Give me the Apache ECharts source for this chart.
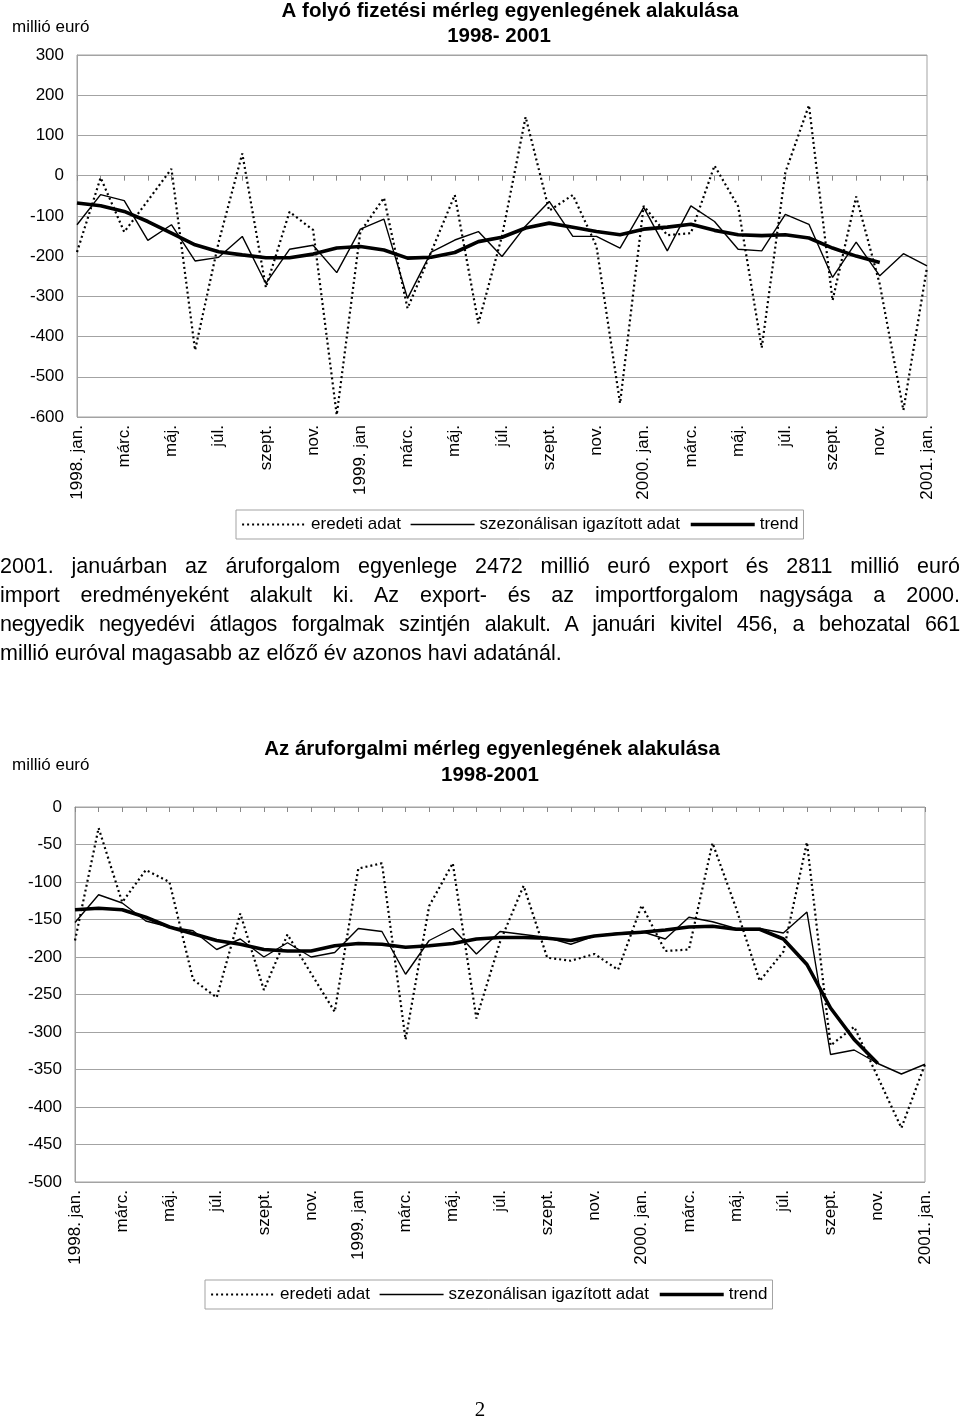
<!DOCTYPE html>
<html><head><meta charset="utf-8">
<script src="https://cdn.jsdelivr.net/npm/echarts@6/dist/echarts.min.js"></script>
<style>
html,body{margin:0;padding:0;background:#fff;}
#page{position:relative;width:960px;height:1420px;overflow:hidden;background:#fff;}
#chart{position:absolute;left:0;top:0;width:960px;height:1420px;}
#para{position:absolute;left:0;top:552px;width:960px;font-family:'Liberation Sans',Arial,sans-serif;font-size:21.5px;line-height:29px;color:#000;}
#para div{text-align:justify;text-align-last:justify;}
#para div.tight{letter-spacing:-0.25px;white-space:nowrap;}
#para div.last{text-align-last:left;}
#pnum{position:absolute;left:0;width:960px;top:1397px;text-align:center;font-family:'Liberation Serif','DejaVu Serif',serif;font-size:21px;color:#000;}
</style></head>
<body><div id="page">
<div id="chart"></div>
<div id="para">
<div>2001. januárban az áruforgalom egyenlege 2472 millió euró export és 2811 millió euró</div>
<div>import eredményeként alakult ki. Az export- és az importforgalom nagysága a 2000.</div>
<div class="tight">negyedik negyedévi átlagos forgalmak szintjén alakult. A januári kivitel 456, a behozatal 661</div>
<div class="last">millió euróval magasabb az előző év azonos havi adatánál.</div>
</div>
<div id="pnum">2</div>
</div>
<script>
// ---- data ----
const months = ['1998. jan.','febr.','márc.','ápr.','máj.','jún.','júl.','aug.','szept.','okt.','nov.','dec.',
  '1999. jan','febr.','márc.','ápr.','máj.','jún.','júl.','aug.','szept.','okt.','nov.','dec.',
  '2000. jan.','febr.','márc.','ápr.','máj.','jún.','júl.','aug.','szept.','okt.','nov.','dec.',
  '2001. jan.'];
const seriesNames = ['eredeti adat', 'szezonálisan igazított adat', 'trend'];

// Chart 1: current account balance (million EUR)
const currOriginal = [-190, -5, -140, -62, 17, -434, -165, 55, -278, -90, -135, -595,
  -140, -55, -330, -190, -48, -367, -150, 146, -87, -48, -175, -566,
  -75, -148, -143, 25, -76, -428, 8, 175, -310, -52, -270, -583, -228];
const currAdjusted = [-122, -47, -62, -161, -122, -212, -203, -151, -268, -183, -173, -241,
  -133, -108, -305, -190, -160, -139, -201, -125, -64, -151, -151, -180,
  -79, -187, -75, -114, -183, -187, -96, -121, -253, -165, -249, -194, -224];
const currTrend = [-68, -75, -89, -114, -143, -172, -189, -197, -204, -204, -195, -180,
  -176, -185, -205, -203, -191, -164, -153, -130, -118, -128, -139, -147,
  -133, -128, -121, -136, -147, -149, -147, -155, -180, -200, -216, null, null];

// Chart 2: trade balance (million EUR)
const tradeOriginal = [-178, -28, -127, -84, -100, -230, -254, -142, -244, -170, -222, -273,
  -82, -75, -310, -132, -75, -282, -180, -105, -201, -205, -196, -217,
  -131, -192, -190, -48, -135, -232, -193, -47, -318, -293, -360, -428, -343];
const tradeAdjusted = [-154, -117, -128, -152, -160, -165, -190, -176, -200, -181, -200, -194,
  -162, -166, -223, -178, -162, -196, -166, -170, -174, -183, -172, -168,
  -166, -176, -147, -153, -162, -162, -168, -140, -330, -324, -342, -356, -343];
const tradeTrend = [-137, -135, -137, -147, -160, -169, -178, -183, -190, -192, -192, -185,
  -182, -183, -187, -185, -182, -176, -174, -174, -175, -178, -172, -169,
  -167, -164, -160, -159, -163, -163, -176, -210, -268, -310, -342, null, null];

const title1 = 'A folyó fizetési mérleg egyenlegének alakulása';
const subtitle1 = '1998- 2001';
const title2 = 'Az áruforgalmi mérleg egyenlegének alakulása';
const subtitle2 = '1998-2001';
const unitLabel = 'millió euró';

// ---- chart ----
const FONT = "'Liberation Sans', Arial, sans-serif";
const GRID_COLOR = '#a3a3a3';
const chart = echarts.init(document.getElementById('chart'), null, {renderer: 'canvas'});

function styles() {
  return [
    {type: [2, 3], width: 2.2, color: '#000'},
    {type: 'solid', width: 1.4, color: '#000'},
    {type: 'solid', width: 3.6, color: '#000'}
  ];
}
function makeSeries(vals, xi, yi) {
  const st = styles();
  return vals.map((v, k) => ({
    name: seriesNames[k], type: 'line', data: v, xAxisIndex: xi, yAxisIndex: yi,
    symbol: 'none', showSymbol: false, connectNulls: false, silent: true,
    lineStyle: st[k], itemStyle: {color: '#000'}, z: 2 + k, animation: false
  }));
}
function labelAxis(gi) {
  return {
    type: 'category', gridIndex: gi, data: months, boundaryGap: false, position: 'bottom',
    axisLine: {show: false, onZero: false}, axisTick: {show: false},
    axisLabel: {interval: 1, rotate: 90, margin: 8, fontSize: 17, fontFamily: FONT, color: '#000'},
    splitLine: {show: false}
  };
}
function zeroAxis(gi) {
  return {
    type: 'category', gridIndex: gi, data: months, boundaryGap: false, position: 'top',
    axisLine: {show: true, onZero: true, lineStyle: {color: GRID_COLOR, width: 1}},
    axisTick: {show: true, interval: 0, inside: true, length: 5, lineStyle: {color: '#888'}},
    axisLabel: {show: false}, splitLine: {show: false}
  };
}
function valueAxis(gi, min, max, interval) {
  return {
    type: 'value', gridIndex: gi, min: min, max: max, interval: interval,
    axisLine: {show: true, lineStyle: {color: GRID_COLOR}}, axisTick: {show: false},
    axisLabel: {margin: 13, fontSize: 17, fontFamily: FONT, color: '#000'},
    splitLine: {show: true, lineStyle: {color: GRID_COLOR, width: 1}}
  };
}
function legend(left, top) {
  const st = styles();
  return {
    data: seriesNames.map((n, k) => ({name: n, lineStyle: {width: st[k].width, type: st[k].type, color: '#000'}})),
    left: left, top: top, orient: 'horizontal',
    itemWidth: 64, itemHeight: 12, itemGap: 9, padding: [6, 5],
    borderColor: GRID_COLOR, borderWidth: 1, backgroundColor: '#fff',
    selectedMode: false, itemStyle: {opacity: 0},
    lineStyle: {width: 'inherit', type: 'inherit'},
    textStyle: {fontSize: 17, fontFamily: FONT, color: '#000'}
  };
}
const tStyle = {fontSize: 20.5, fontWeight: 'bold', fontFamily: FONT, color: '#000'};
const uStyle = {fontSize: 17, fontWeight: 'normal', fontFamily: FONT, color: '#000'};

const option = {
  animation: false,
  backgroundColor: '#fff',
  title: [
    {text: title1, left: 510, top: 1, textAlign: 'center', padding: 0, textStyle: tStyle},
    {text: subtitle1, left: 499, top: 26, textAlign: 'center', padding: 0, textStyle: tStyle},
    {text: unitLabel, left: 12, top: 19, padding: 0, textStyle: uStyle},
    {text: title2, left: 492, top: 739, textAlign: 'center', padding: 0, textStyle: tStyle},
    {text: subtitle2, left: 490, top: 765, textAlign: 'center', padding: 0, textStyle: tStyle},
    {text: unitLabel, left: 12, top: 757, padding: 0, textStyle: uStyle}
  ],
  legend: [legend(236, 510), legend(205, 1280)],
  grid: [
    {left: 77, right: 33, top: 55, bottom: 1420 - 417, show: true, borderColor: GRID_COLOR, borderWidth: 1, containLabel: false},
    {left: 75, right: 35, top: 807, bottom: 1420 - 1182, show: true, borderColor: GRID_COLOR, borderWidth: 1, containLabel: false}
  ],
  xAxis: [labelAxis(0), zeroAxis(0), labelAxis(1), zeroAxis(1)],
  yAxis: [valueAxis(0, -600, 300, 100), valueAxis(1, -500, 0, 50)],
  series: [].concat(
    makeSeries([currOriginal, currAdjusted, currTrend], 0, 0),
    makeSeries([tradeOriginal, tradeAdjusted, tradeTrend], 2, 1)
  )
};
chart.setOption(option);
</script>
</body></html>
